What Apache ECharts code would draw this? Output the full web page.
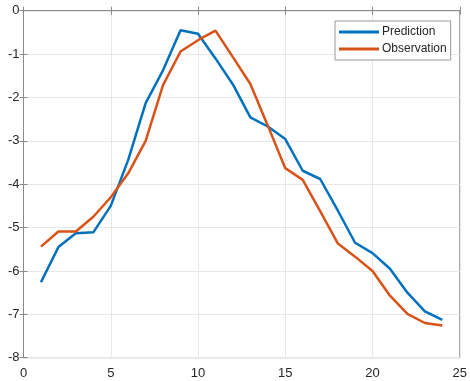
<!DOCTYPE html>
<html><head><meta charset="utf-8">
<script src="https://cdn.jsdelivr.net/npm/echarts@6/dist/echarts.min.js"></script>
<style>html,body{margin:0;padding:0;background:#fff}#c{width:470px;height:381px}</style>
</head><body><div id="c"></div>
<script>
const xValues = [1,2,3,4,5,6,7,8,9,10,11,12,13,14,15,16,17,18,19,20,21,22,23,24];
const prediction = [-6.26,-5.45,-5.13,-5.11,-4.5,-3.44,-2.13,-1.37,-0.45,-0.53,-1.1,-1.7,-2.46,-2.67,-2.96,-3.69,-3.88,-4.6,-5.35,-5.59,-5.95,-6.5,-6.93,-7.13];
const observation = [-5.44,-5.09,-5.09,-4.75,-4.3,-3.75,-3.0,-1.71,-0.94,-0.68,-0.46,-1.07,-1.69,-2.65,-3.63,-3.9,-4.62,-5.36,-5.67,-6.0,-6.57,-6.99,-7.2,-7.26];
const seriesNames = ['Prediction','Observation'];

const chart = echarts.init(document.getElementById('c'));
const axisColor = '#8a8a8a';
const labelStyle = {color:'#262626', fontSize:13, fontFamily:'Arial, Liberation Sans, sans-serif'};
chart.setOption({
  animation:false,
  grid:{left:23.5, right:7, top:10.7, bottom:23.3, show:true, borderColor:axisColor, borderWidth:1},
  legend:{
    data:seriesNames.map(n=>({name:n, icon:'rect'})),
    orient:'vertical', left:335, top:21,
    itemWidth:40, itemHeight:3, itemGap:5,
    padding:[5,4,5,4],
    borderColor:'#999', borderWidth:1, backgroundColor:'#fff',
    textStyle:{color:'#262626', fontSize:12, fontFamily:'Arial, Liberation Sans, sans-serif', padding:[0,0,0,-2]}
  },
  xAxis:[{
    type:'value', min:0, max:25, interval:5,
    axisLine:{show:true, lineStyle:{color:axisColor}},
    axisTick:{show:true, inside:true, length:4, lineStyle:{color:axisColor}},
    axisLabel:Object.assign({margin:9}, labelStyle),
    splitLine:{show:true, lineStyle:{color:'#e8e8e8'}}
  },{
    type:'value', min:0, max:25, interval:5, position:'top',
    axisLine:{show:true, lineStyle:{color:axisColor}},
    axisTick:{show:true, inside:true, length:4, lineStyle:{color:axisColor}},
    axisLabel:{show:false}, splitLine:{show:false}
  }],
  yAxis:[{
    type:'value', min:-8, max:0, interval:1,
    axisLine:{show:true, lineStyle:{color:axisColor}},
    axisTick:{show:true, inside:true, length:4, lineStyle:{color:axisColor}},
    axisLabel:Object.assign({margin:4}, labelStyle),
    splitLine:{show:true, lineStyle:{color:'#e8e8e8'}}
  },{
    type:'value', min:-8, max:0, interval:1, position:'right',
    axisLine:{show:true, lineStyle:{color:axisColor}},
    axisTick:{show:true, inside:true, length:4, lineStyle:{color:axisColor}},
    axisLabel:{show:false}, splitLine:{show:false}
  }],
  series:[
    {name:seriesNames[0], type:'line', data:xValues.map((x,i)=>[x,prediction[i]]), showSymbol:false, symbol:'none',
     lineStyle:{color:'#0072BD', width:2.5}, itemStyle:{color:'#0072BD'}},
    {name:seriesNames[1], type:'line', data:xValues.map((x,i)=>[x,observation[i]]), showSymbol:false, symbol:'none',
     lineStyle:{color:'#D95319', width:2.5}, itemStyle:{color:'#D95319'}}
  ]
});
</script></body></html>
